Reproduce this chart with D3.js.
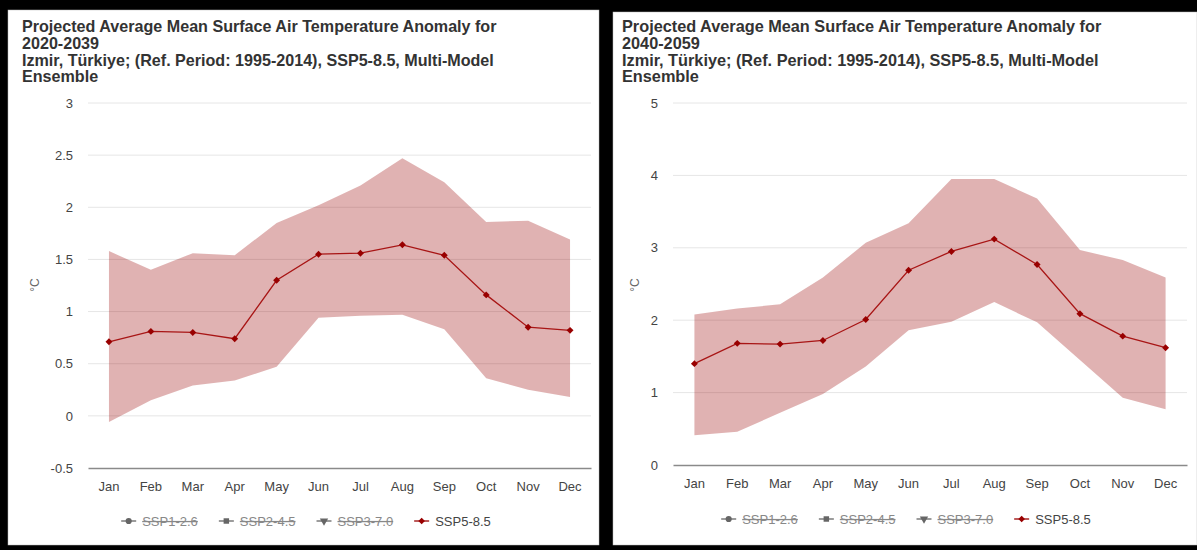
<!DOCTYPE html>
<html>
<head>
<meta charset="utf-8">
<script src="https://cdn.jsdelivr.net/npm/d3@7/dist/d3.min.js"></script>
<style>
  html, body { margin: 0; padding: 0; background: #000; }
  svg { display: block; }
  text { font-family: "Liberation Sans", Arial, sans-serif; }
</style>
</head>
<body>
<svg id="chart" width="1197" height="550"></svg>
<script>
// Months on the x axis
const months = ["Jan","Feb","Mar","Apr","May","Jun","Jul","Aug","Sep","Oct","Nov","Dec"];

// 2020-2039 anomaly (°C): multi-model median and 10th-90th percentile range
const median2039 = [0.71, 0.81, 0.80, 0.74, 1.30, 1.55, 1.56, 1.64, 1.54, 1.16, 0.85, 0.82];
const low2039    = [-0.06, 0.15, 0.29, 0.34, 0.47, 0.94, 0.96, 0.97, 0.83, 0.36, 0.25, 0.18];
const high2039   = [1.58, 1.40, 1.56, 1.54, 1.85, 2.02, 2.21, 2.47, 2.24, 1.86, 1.87, 1.69];
const ticks2039  = [-0.5, 0, 0.5, 1, 1.5, 2, 2.5, 3];

// 2040-2059 anomaly (°C)
const median2059 = [1.40, 1.68, 1.67, 1.72, 2.01, 2.69, 2.95, 3.12, 2.77, 2.09, 1.78, 1.62];
const low2059    = [0.41, 0.46, 0.72, 0.98, 1.36, 1.86, 1.98, 2.25, 1.97, 1.45, 0.93, 0.77];
const high2059   = [2.08, 2.16, 2.22, 2.59, 3.07, 3.34, 3.95, 3.95, 3.68, 2.97, 2.83, 2.59];
const ticks2059  = [0, 1, 2, 3, 4, 5];

// Legend entries (only SSP5-8.5 is active)
const scenarios = ["SSP1-2.6", "SSP2-4.5", "SSP3-7.0", "SSP5-8.5"];
const scenarioSymbols = [d3.symbolCircle, d3.symbolSquare, d3.symbolTriangle, d3.symbolSquare];
const scenarioRotation = [0, 0, 180, 45];
const activeScenario = "SSP5-8.5";

const titleLine1 = "Projected Average Mean Surface Air Temperature Anomaly for";
const titleLine3 = "Izmir, Türkiye; (Ref. Period: 1995-2014), SSP5-8.5, Multi-Model";
const titleLine4 = "Ensemble";

const RED = "#990000";
const svg = d3.select("#chart");

function drawPanel(opt) {
  const g = svg.append("g");

  // white card
  g.append("rect")
    .attr("x", opt.card[0]).attr("y", opt.card[1])
    .attr("width", opt.card[2]).attr("height", opt.card[3])
    .attr("fill", "#fff").attr("stroke", "#bbb").attr("stroke-width", 0.5);

  // title block
  const tg = g.append("g").attr("transform", `translate(${opt.titleX},0)`);
  const lines = [titleLine1, opt.period, titleLine3, titleLine4];
  const tl = tg.selectAll("text").data(lines).join("text")
    .attr("x", 0).attr("y", (d, i) => 32 + i * 16.8)
    .attr("font-size", 16.5).attr("font-weight", "bold").attr("fill", "#333")
    .text(d => d);
  const natural = tl.nodes()[0].getComputedTextLength();
  const sx = opt.titleWidth / natural;
  tg.attr("transform", `translate(${opt.titleX},0) scale(${sx},1)`);

  const x = d3.scaleBand().domain(months).range([opt.left, opt.right]);
  const cx = m => x(m) + x.bandwidth() / 2;
  const y = d3.scaleLinear().domain(opt.domain).range([opt.bottom, opt.top]);

  // gridlines
  g.append("g").selectAll("line").data(opt.ticks.filter(t => t !== opt.domain[0])).join("line")
    .attr("x1", opt.left).attr("x2", opt.right)
    .attr("y1", d => y(d)).attr("y2", d => y(d))
    .attr("stroke", "#e6e6e6").attr("stroke-width", 1);

  // y axis labels
  const yAxis = d3.axisLeft(y).tickValues(opt.ticks).tickSize(0).tickPadding(15)
    .tickFormat(d => String(d));
  const ya = g.append("g").attr("transform", `translate(${opt.left},0)`).call(yAxis);
  ya.select(".domain").remove();
  ya.selectAll("text").attr("font-size", 13).attr("fill", "#444")
    .attr("font-family", "Liberation Sans, Arial, sans-serif");

  // unit label
  g.append("text")
    .attr("transform", `translate(${opt.unitX},${opt.unitY}) rotate(-90)`)
    .attr("text-anchor", "middle").attr("dy", "0.35em")
    .attr("font-size", 12).attr("fill", "#666").text("°C");

  // uncertainty band
  const rows = months.map((m, i) => ({ m, lo: opt.low[i], hi: opt.high[i], v: opt.median[i] }));
  g.append("path").datum(rows)
    .attr("d", d3.area().x(d => cx(d.m)).y0(d => y(d.lo)).y1(d => y(d.hi)))
    .attr("fill", RED).attr("fill-opacity", 0.3);

  // x axis baseline + labels
  const xAxis = d3.axisBottom(x).tickSize(0).tickPadding(14);
  const xa = g.append("g").attr("transform", `translate(0,${opt.bottom})`).call(xAxis);
  xa.select(".domain").attr("stroke", "#8a8a8a").attr("stroke-width", 1.5);
  xa.selectAll("text").attr("font-size", 13).attr("fill", "#444")
    .attr("font-family", "Liberation Sans, Arial, sans-serif");

  // median line and diamond markers
  g.append("path").datum(rows)
    .attr("d", d3.line().x(d => cx(d.m)).y(d => y(d.v)))
    .attr("fill", "none").attr("stroke", "#a81515").attr("stroke-width", 1.3);
  g.append("g").selectAll("path").data(rows).join("path")
    .attr("transform", d => `translate(${cx(d.m)},${y(d.v)}) rotate(45)`)
    .attr("d", d3.symbol(d3.symbolSquare, 24))
    .attr("fill", RED);

  // legend
  const lg = g.append("g");
  const items = lg.selectAll("g").data(scenarios).join("g");
  items.each(function (d, i) {
    const it = d3.select(this);
    const active = d === activeScenario;
    const col = active ? RED : "#666";
    it.append("line").attr("x1", 0).attr("x2", 15).attr("y1", 0).attr("y2", 0)
      .attr("stroke", col).attr("stroke-width", 1.3);
    it.append("path").attr("transform", `translate(7.5,0) rotate(${scenarioRotation[i]})`)
      .attr("d", d3.symbol(scenarioSymbols[i], active ? 22 : 30)).attr("fill", col);
    it.append("text").attr("x", 21).attr("dy", "0.35em")
      .attr("font-size", 13).attr("fill", active ? "#444" : "#888")
      .attr("text-decoration", active ? null : "line-through")
      .text(d);
  });
  const gap = 21;
  let pos = 0;
  const widths = [];
  items.each(function () { widths.push(this.getBBox().width); });
  items.attr("transform", (d, i) => {
    const p = pos; pos += widths[i] + gap; return `translate(${p},0)`;
  });
  const total = pos - gap;
  lg.attr("transform", `translate(${opt.legendCenter - total / 2},${opt.legendY})`);
}

drawPanel({
  card: [8, 10, 591, 535],
  period: "2020-2039",
  titleX: 22, titleWidth: 475,
  left: 88, right: 591, top: 103, bottom: 468,
  domain: [-0.5, 3], ticks: ticks2039,
  median: median2039, low: low2039, high: high2039,
  unitX: 35, unitY: 285,
  legendCenter: 306, legendY: 521
});

drawPanel({
  card: [613, 12, 584, 533],
  period: "2040-2059",
  titleX: 622, titleWidth: 480,
  left: 673, right: 1187, top: 103, bottom: 465,
  domain: [0, 5], ticks: ticks2059,
  median: median2059, low: low2059, high: high2059,
  unitX: 635, unitY: 285,
  legendCenter: 906, legendY: 519
});
</script>
</body>
</html>
